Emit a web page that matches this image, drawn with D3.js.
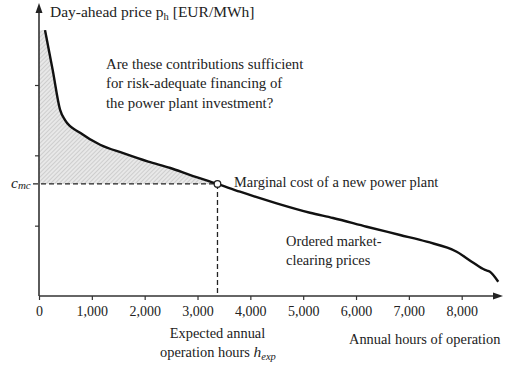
<!DOCTYPE html>
<html><head><meta charset="utf-8">
<script src="https://cdn.jsdelivr.net/npm/d3@7"></script>
<style>
body{margin:0;background:#fff;}
svg text{font-family:'Liberation Serif','Times New Roman',Times,'DejaVu Serif',serif !important;fill:#222;}
</style></head>
<body><svg id="c" width="517" height="365" font-family="Liberation Serif, serif"></svg>
<script>
// Ordered market-clearing prices (price duration curve), arbitrary price units
const hours  = [114, 260, 398, 493, 778, 1157, 1594, 2068, 2486, 2865, 3378, 3804, 4498, 5129, 5564, 6202, 6832, 7337, 7905, 8189, 8441, 8535, 8692];
const prices = [3.78, 3.21, 2.65, 2.50, 2.32, 2.15, 2.03, 1.91, 1.82, 1.72, 1.593, 1.483, 1.318, 1.184, 1.109, 0.985, 0.867, 0.772, 0.630, 0.488, 0.370, 0.346, 0.203];
const xTicks = [0, 1000, 2000, 3000, 4000, 5000, 6000, 7000, 8000];
const yTicks = [1, 2, 3];
const hExp = 3378;
const cMc = 1.593;

const svg = d3.select("#c");
const x = d3.scaleLinear().domain([0, 8000]).range([39, 461.7]);
const y = d3.scaleLinear().domain([0, 3]).range([296, 85]);
const data = hours.map((h, i) => ({h, p: prices[i]}));

// hatch pattern
const defs = svg.append("defs");
const pat = defs.append("pattern").attr("id","hatch").attr("patternUnits","userSpaceOnUse")
  .attr("width",3).attr("height",3).attr("patternTransform","rotate(45)");
pat.append("rect").attr("width",3).attr("height",3).attr("fill","#e8e8e8");
pat.append("line").attr("x1",0).attr("y1",0).attr("x2",0).attr("y2",3).attr("stroke","#b4b4b4").attr("stroke-width",1);

// shaded area between curve and marginal cost up to h_exp
const shade = [{h:0, p:prices[0]}].concat(data.filter(d => d.h <= hExp));
svg.append("path").datum(shade)
  .attr("d", d3.area().x(d => x(d.h)).y0(y(cMc)).y1(d => y(d.p)).curve(d3.curveMonotoneX))
  .attr("fill","url(#hatch)");

// dashed reference lines
svg.append("line").attr("x1",33).attr("x2",x(hExp)).attr("y1",y(cMc)).attr("y2",y(cMc))
  .attr("stroke","#222").attr("stroke-width",1.3).attr("stroke-dasharray","5,3");
svg.append("line").attr("x1",x(hExp)).attr("x2",x(hExp)).attr("y1",y(cMc)).attr("y2",y(0))
  .attr("stroke","#222").attr("stroke-width",1.3).attr("stroke-dasharray","5,3");

// axes
const xAxis = d3.axisBottom(x).tickValues(xTicks).tickSize(4).tickFormat(d3.format(","));
const gx = svg.append("g").attr("transform",`translate(0,${y(0)})`).call(xAxis).attr("font-family",null);
gx.select(".domain").remove();
gx.selectAll(".tick line").attr("stroke","#333").attr("stroke-width",1.2);
gx.selectAll(".tick text").attr("dy","0.95em").style("font-size","14px").attr("fill","#222");

const yAxis = d3.axisLeft(y).tickValues(yTicks).tickSize(4).tickFormat("");
const gy = svg.append("g").attr("transform",`translate(${x(0)},0)`).call(yAxis);
gy.select(".domain").remove();
gy.selectAll(".tick line").attr("stroke","#333").attr("stroke-width",1.2);

svg.append("line").attr("x1",x(0)).attr("x2",496).attr("y1",y(0)).attr("y2",y(0)).attr("stroke","#333").attr("stroke-width",1.6);
svg.append("path").attr("d",`M503,${y(0)} L493,${y(0)-3.5} L493,${y(0)+3.5} Z`).attr("fill","#222");
svg.append("line").attr("x1",x(0)).attr("x2",x(0)).attr("y1",y(0)).attr("y2",12).attr("stroke","#333").attr("stroke-width",1.6);
svg.append("path").attr("d",`M${x(0)},3 L${x(0)-3.5},13 L${x(0)+3.5},13 Z`).attr("fill","#222");

// curve
svg.append("path").datum(data)
  .attr("d", d3.line().x(d => x(d.h)).y(d => y(d.p)).curve(d3.curveMonotoneX))
  .attr("fill","none").attr("stroke","#111").attr("stroke-width",2.4).attr("stroke-linejoin","round");

// marker
svg.append("circle").attr("cx",x(hExp)).attr("cy",y(cMc)).attr("r",3.3)
  .attr("fill","#fff").attr("stroke","#222").attr("stroke-width",1.3);

// texts
const fs = "14.4px";
const t1 = svg.append("text").attr("x",50).attr("y",17).style("font-size","15.5px");
t1.append("tspan").text("Day-ahead price p");
t1.append("tspan").text("h").attr("dy",3).style("font-size","10.5px");
t1.append("tspan").text(" [EUR/MWh]").attr("dy",-3);

["Are these contributions sufficient","for risk-adequate financing of","the power plant investment?"]
  .forEach((s,i) => svg.append("text").attr("x",106).attr("y",69 + i*19.3).style("font-size","14.8px").text(s));

const cm = svg.append("text").attr("x",11).attr("y",188).style("font-size","15.5px").style("font-style","italic");
cm.append("tspan").text("c");
cm.append("tspan").text("mc").attr("dy",1).style("font-size","11px");

svg.append("text").attr("x",234).attr("y",187).style("font-size",fs).text("Marginal cost of a new power plant");
["Ordered market-","clearing prices"].forEach((s,i) =>
  svg.append("text").attr("x",286).attr("y",246 + i*19).style("font-size",fs).text(s));

svg.append("text").attr("x",x(hExp)).attr("y",338).attr("text-anchor","middle").style("font-size",fs).text("Expected annual");
const oh = svg.append("text").attr("x",160).attr("y",357).style("font-size",fs);
oh.append("tspan").text("operation hours  ");
oh.append("tspan").text("h").style("font-style","italic").style("font-size","15.5px");
oh.append("tspan").text("exp").attr("dy",2.5).style("font-style","italic").style("font-size","10.5px");

svg.append("text").attr("x",349).attr("y",344).style("font-size",fs).text("Annual hours of operation");
</script></body></html>
